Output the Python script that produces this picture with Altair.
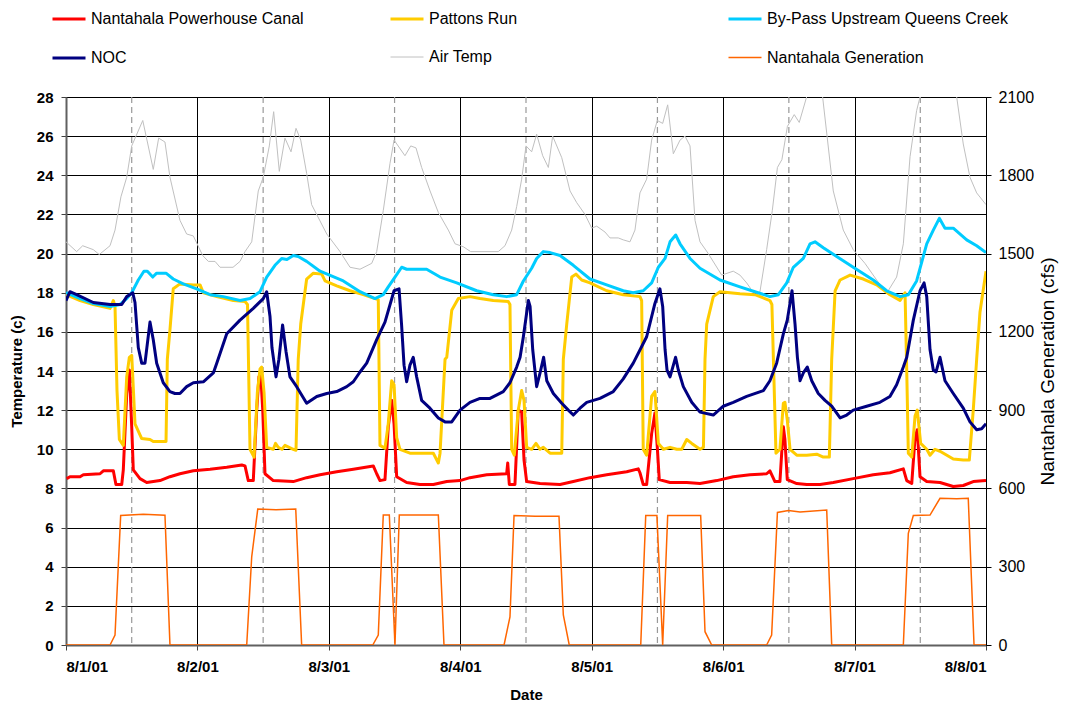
import json

import altair as alt
import pandas as pd

# ---- categories / labels -------------------------------------------------
DATE_LABELS = ["8/1/01", "8/2/01", "8/3/01", "8/4/01", "8/5/01", "8/6/01", "8/7/01", "8/8/01"]
NOON_DAYS = [0.5, 1.5, 2.5, 3.5, 4.5, 5.5, 6.5]
TEMP_TICKS = [0, 2, 4, 6, 8, 10, 12, 14, 16, 18, 20, 22, 24, 26, 28]
FLOW_TICKS = [0, 300, 600, 900, 1200, 1500, 1800, 2100]

SERIES = [
    "Nantahala Powerhouse Canal",
    "Pattons Run",
    "By-Pass Upstream Queens Creek",
    "NOC",
    "Air Temp",
    "Nantahala Generation",
]
COLORS = ["#ff0000", "#ffcc00", "#00ccff", "#000080", "#c0c0c0", "#ff6600"]
WIDTHS = [3, 3, 3, 3, 1, 1.5]

# ---- series (x in days since 8/1/01 00:00) ---------------------------------
CANAL_DAY = [0.005, 0.030, 0.107, 0.132, 0.259, 0.284, 0.360, 0.380, 0.424, 0.436, 0.462, 0.482, 0.500, 0.512,
             0.563, 0.614, 0.715, 0.791, 0.867, 0.969, 1.096, 1.223, 1.337, 1.362, 1.387, 1.425, 1.451, 1.468,
             1.481, 1.497, 1.514, 1.577, 1.729, 1.831, 1.933, 2.060, 2.186, 2.338, 2.364, 2.389, 2.427, 2.452,
             2.478, 2.496, 2.516, 2.592, 2.693, 2.795, 2.897, 2.998, 3.074, 3.201, 3.353, 3.361, 3.373, 3.416,
             3.441, 3.467, 3.485, 3.505, 3.607, 3.759, 3.860, 3.987, 4.114, 4.266, 4.354, 4.367, 4.392, 4.418,
             4.456, 4.481, 4.499, 4.514, 4.596, 4.723, 4.824, 4.951, 5.077, 5.204, 5.331, 5.356, 5.394, 5.432,
             5.458, 5.470, 5.488, 5.560, 5.636, 5.737, 5.838, 5.990, 6.142, 6.269, 6.371, 6.397, 6.435, 6.460,
             6.477, 6.498, 6.549, 6.650, 6.751, 6.827, 6.903, 7.000]
CANAL_TEMP = [8.5, 8.6, 8.6, 8.7, 8.75, 8.9, 8.9, 8.2, 8.2, 8.95, 12.85, 14.05, 11.15, 8.95,
              8.5, 8.3, 8.4, 8.6, 8.75, 8.9, 8.98, 9.08, 9.2, 9.15, 8.4, 8.4, 12.0, 13.7,
              13.9, 12.0, 8.75, 8.4, 8.35, 8.55, 8.7, 8.85, 8.98, 9.15, 8.75, 8.4, 8.45, 11.15,
              12.5, 11.3, 8.6, 8.3, 8.2, 8.2, 8.35, 8.4, 8.55, 8.7, 8.75, 9.3, 8.2, 8.2,
              12.0, 11.9, 9.45, 8.35, 8.25, 8.2, 8.35, 8.55, 8.7, 8.85, 9.0, 8.8, 8.2, 8.2,
              10.8, 11.85, 10.1, 8.45, 8.3, 8.3, 8.25, 8.4, 8.6, 8.7, 8.75, 8.9, 8.35, 8.35,
              11.15, 10.5, 8.45, 8.25, 8.2, 8.2, 8.3, 8.5, 8.7, 8.8, 9.0, 8.4, 8.25, 10.6,
              11.0, 8.6, 8.35, 8.3, 8.1, 8.15, 8.35, 8.4]

PATTONS_DAY = [0.000, 0.107, 0.208, 0.335, 0.360, 0.373, 0.388, 0.406, 0.436, 0.462, 0.482, 0.500, 0.508, 0.525,
               0.576, 0.639, 0.664, 0.761, 0.771, 0.791, 0.816, 0.867, 0.969, 1.020, 1.045, 1.147, 1.273, 1.362,
               1.381, 1.400, 1.431, 1.456, 1.476, 1.489, 1.507, 1.527, 1.577, 1.594, 1.615, 1.643, 1.666, 1.729,
               1.750, 1.767, 1.786, 1.831, 1.882, 1.946, 1.971, 2.060, 2.161, 2.262, 2.351, 2.376, 2.389, 2.427,
               2.452, 2.478, 2.496, 2.516, 2.541, 2.617, 2.795, 2.833, 2.846, 2.884, 2.897, 2.935, 2.985, 3.074,
               3.150, 3.251, 3.365, 3.378, 3.391, 3.411, 3.441, 3.467, 3.485, 3.505, 3.543, 3.576, 3.607, 3.632,
               3.683, 3.772, 3.784, 3.810, 3.848, 3.880, 3.924, 3.987, 4.114, 4.240, 4.367, 4.380, 4.392, 4.418,
               4.456, 4.481, 4.507, 4.545, 4.596, 4.647, 4.685, 4.723, 4.761, 4.824, 4.850, 4.862, 4.875, 4.925,
               4.976, 5.128, 5.242, 5.318, 5.356, 5.371, 5.402, 5.432, 5.458, 5.470, 5.488, 5.509, 5.560, 5.636,
               5.712, 5.762, 5.808, 5.826, 5.852, 5.890, 5.966, 6.066, 6.168, 6.269, 6.346, 6.384, 6.397, 6.409,
               6.435, 6.460, 6.477, 6.503, 6.549, 6.574, 6.612, 6.650, 6.751, 6.827, 6.873, 6.903, 6.929, 6.954,
               7.000]
PATTONS_TEMP = [17.9, 17.6, 17.4, 17.2, 17.6, 17.3, 13.0, 10.5, 10.2, 13.7, 14.7, 14.8, 13.7, 11.3,
                10.55, 10.5, 10.4, 10.4, 14.6, 16.1, 18.2, 18.45, 18.4, 18.4, 18.0, 17.8, 17.6, 17.55,
                17.4, 10.0, 9.6, 12.9, 14.1, 14.2, 12.9, 10.1, 10.0, 10.3, 10.1, 10.0, 10.2, 10.0,
                9.95, 14.6, 16.4, 18.7, 19.0, 18.95, 18.6, 18.35, 18.1, 17.9, 17.7, 17.65, 10.2, 10.05,
                11.3, 13.5, 13.3, 10.6, 10.0, 9.8, 9.8, 9.3, 9.8, 14.6, 14.7, 17.1, 17.7, 17.8,
                17.7, 17.6, 17.55, 17.4, 10.0, 9.7, 12.0, 13.0, 12.5, 10.1, 10.0, 10.3, 10.0, 10.1,
                9.8, 9.8, 14.6, 16.4, 18.8, 18.95, 18.65, 18.5, 18.1, 17.9, 17.8, 17.6, 10.0, 9.7,
                12.7, 12.95, 10.3, 10.0, 10.1, 10.0, 10.0, 10.5, 10.3, 10.0, 10.1, 14.6, 16.4, 17.8,
                18.05, 17.95, 17.9, 17.7, 17.6, 17.4, 9.8, 10.0, 12.35, 12.4, 11.5, 10.0, 9.7, 9.7,
                9.75, 9.6, 9.6, 14.6, 18.1, 18.65, 18.9, 18.7, 18.4, 17.9, 17.6, 18.0, 14.0, 9.8,
                9.6, 11.7, 12.0, 10.3, 10.0, 9.7, 10.0, 9.9, 9.5, 9.45, 9.45, 12.0, 14.6, 17.0,
                19.1]

BYPASS_DAY = [0.000, 0.107, 0.208, 0.335, 0.411, 0.462, 0.500, 0.550, 0.593, 0.619, 0.660, 0.690, 0.761, 0.816,
              0.892, 0.994, 1.096, 1.197, 1.324, 1.400, 1.476, 1.527, 1.590, 1.641, 1.681, 1.729, 1.767, 1.831,
              1.933, 2.110, 2.237, 2.351, 2.414, 2.452, 2.503, 2.554, 2.592, 2.744, 2.846, 2.973, 3.125, 3.251,
              3.353, 3.429, 3.480, 3.543, 3.581, 3.632, 3.683, 3.759, 3.860, 3.987, 4.114, 4.240, 4.316, 4.392,
              4.456, 4.507, 4.558, 4.596, 4.639, 4.672, 4.748, 4.824, 4.976, 5.128, 5.242, 5.356, 5.420, 5.484,
              5.534, 5.610, 5.661, 5.699, 5.762, 5.864, 5.990, 6.142, 6.244, 6.346, 6.409, 6.472, 6.549, 6.599,
              6.645, 6.688, 6.751, 6.853, 6.929, 7.000]
BYPASS_TEMP = [18.0, 17.7, 17.45, 17.3, 17.4, 17.7, 18.0, 18.65, 19.1, 19.1, 18.8, 19.0, 19.0, 18.7,
               18.45, 18.2, 17.9, 17.8, 17.6, 17.7, 18.05, 18.8, 19.4, 19.75, 19.7, 19.9, 19.85, 19.6,
               19.1, 18.6, 18.05, 17.7, 17.9, 18.3, 18.8, 19.3, 19.2, 19.2, 18.8, 18.5, 18.1, 17.9,
               17.8, 17.9, 18.6, 19.25, 19.75, 20.1, 20.05, 19.9, 19.4, 18.7, 18.4, 18.1, 18.0, 18.1,
               18.5, 19.3, 19.75, 20.6, 20.95, 20.5, 19.75, 19.25, 18.65, 18.3, 18.05, 17.8, 17.9, 18.5,
               19.3, 19.75, 20.5, 20.6, 20.3, 19.85, 19.3, 18.65, 18.1, 17.8, 17.9, 18.6, 20.5, 21.2,
               21.8, 21.3, 21.3, 20.7, 20.4, 20.05]

NOC_DAY = [0.000, 0.030, 0.081, 0.208, 0.335, 0.424, 0.462, 0.508, 0.525, 0.550, 0.576, 0.601, 0.639, 0.664,
           0.690, 0.740, 0.791, 0.829, 0.867, 0.918, 0.969, 1.045, 1.121, 1.147, 1.223, 1.324, 1.425, 1.501,
           1.527, 1.552, 1.567, 1.598, 1.620, 1.648, 1.674, 1.704, 1.755, 1.831, 1.908, 1.984, 2.060, 2.136,
           2.186, 2.237, 2.288, 2.364, 2.427, 2.496, 2.534, 2.553, 2.572, 2.592, 2.617, 2.642, 2.668, 2.706,
           2.769, 2.833, 2.884, 2.935, 2.998, 3.074, 3.150, 3.226, 3.327, 3.378, 3.429, 3.455, 3.480, 3.518,
           3.531, 3.551, 3.581, 3.607, 3.634, 3.658, 3.708, 3.772, 3.822, 3.860, 3.911, 3.962, 4.063, 4.164,
           4.240, 4.316, 4.418, 4.481, 4.519, 4.540, 4.558, 4.573, 4.596, 4.638, 4.659, 4.697, 4.761, 4.824,
           4.925, 5.001, 5.077, 5.179, 5.306, 5.356, 5.407, 5.458, 5.488, 5.524, 5.547, 5.565, 5.585, 5.610,
           5.640, 5.674, 5.724, 5.775, 5.826, 5.890, 5.940, 5.990, 6.092, 6.193, 6.269, 6.320, 6.371, 6.397,
           6.447, 6.498, 6.529, 6.549, 6.574, 6.599, 6.620, 6.650, 6.688, 6.751, 6.827, 6.878, 6.929, 6.967,
           7.000]
NOC_TEMP = [17.6, 18.05, 17.9, 17.5, 17.4, 17.4, 17.8, 18.0, 17.5, 15.2, 14.4, 14.4, 16.5, 15.6,
            14.4, 13.4, 12.95, 12.85, 12.85, 13.2, 13.4, 13.45, 13.9, 14.4, 15.9, 16.6, 17.2, 17.7,
            18.05, 16.8, 15.2, 13.7, 14.6, 16.35, 15.0, 13.7, 13.2, 12.35, 12.7, 12.85, 12.95, 13.2,
            13.45, 13.95, 14.4, 15.6, 16.5, 18.1, 18.2, 16.4, 14.3, 13.45, 14.3, 14.7, 13.7, 12.5,
            12.1, 11.6, 11.4, 11.4, 12.0, 12.4, 12.6, 12.6, 12.95, 13.4, 14.2, 14.7, 15.75, 17.6,
            17.3, 15.1, 13.2, 13.9, 14.7, 13.5, 12.85, 12.35, 12.0, 11.75, 12.1, 12.4, 12.6, 12.95,
            13.6, 14.4, 15.75, 17.45, 18.2, 17.3, 15.1, 14.05, 13.7, 14.7, 14.05, 13.2, 12.4, 11.9,
            11.75, 12.2, 12.4, 12.7, 13.0, 13.5, 14.4, 15.9, 16.6, 18.1, 16.4, 14.7, 13.5, 13.9,
            14.2, 13.5, 12.85, 12.5, 12.2, 11.6, 11.75, 12.0, 12.2, 12.4, 12.7, 13.3, 14.2, 14.7,
            16.6, 18.1, 18.5, 17.8, 15.1, 14.05, 13.95, 14.7, 13.5, 12.85, 12.1, 11.4, 11.0, 11.05,
            11.3]

AIR_DAY = [0.000, 0.081, 0.127, 0.208, 0.253, 0.335, 0.373, 0.418, 0.462, 0.500, 0.584, 0.664, 0.705, 0.753,
           0.791, 0.867, 0.918, 0.969, 1.040, 1.083, 1.134, 1.172, 1.271, 1.324, 1.362, 1.413, 1.463, 1.501,
           1.547, 1.580, 1.623, 1.666, 1.712, 1.750, 1.786, 1.831, 1.869, 1.984, 2.085, 2.161, 2.237, 2.326,
           2.364, 2.414, 2.465, 2.496, 2.579, 2.623, 2.663, 2.706, 2.770, 2.833, 2.909, 2.960, 3.023, 3.079,
           3.289, 3.340, 3.391, 3.429, 3.467, 3.500, 3.543, 3.581, 3.627, 3.670, 3.703, 3.772, 3.835, 3.886,
           3.949, 4.000, 4.038, 4.101, 4.139, 4.202, 4.240, 4.291, 4.329, 4.367, 4.418, 4.456, 4.499, 4.540,
           4.578, 4.621, 4.672, 4.710, 4.748, 4.786, 4.824, 4.887, 4.989, 5.077, 5.128, 5.179, 5.242, 5.280,
           5.331, 5.374, 5.413, 5.447, 5.489, 5.541, 5.579, 5.635, 5.675, 5.721, 5.757, 5.838, 5.914, 5.990,
           6.079, 6.168, 6.244, 6.320, 6.371, 6.422, 6.472, 6.498, 6.574, 6.688, 6.777, 6.827, 6.878, 6.929,
           7.000]
AIR_TEMP = [20.6, 20.1, 20.4, 20.2, 19.95, 20.4, 21.2, 22.9, 23.9, 25.5, 26.8, 24.3, 25.9, 25.7,
            23.9, 21.7, 21.0, 20.9, 19.9, 19.6, 19.6, 19.3, 19.3, 19.6, 20.1, 20.6, 23.2, 23.9,
            25.5, 27.25, 24.2, 25.9, 25.2, 26.4, 25.8, 24.1, 22.5, 21.0, 20.1, 19.3, 19.2, 19.5,
            20.1, 22.2, 24.6, 25.8, 25.0, 25.5, 25.4, 24.4, 23.2, 22.1, 21.2, 20.5, 20.35, 20.1,
            20.1, 20.4, 21.2, 22.4, 23.8, 25.5, 25.2, 26.1, 25.0, 24.4, 26.0, 24.9, 23.2, 22.6,
            22.0, 21.3, 21.4, 21.1, 20.8, 20.8, 20.7, 20.6, 21.2, 23.1, 23.8, 25.8, 26.8, 26.65,
            27.6, 25.1, 25.8, 26.0, 25.5, 21.7, 20.6, 20.0, 18.9, 19.1, 18.9, 18.5, 17.9, 18.05,
            20.2, 22.2, 24.4, 24.8, 26.5, 27.1, 26.7, 28.0, 29.0, 29.2, 28.0, 23.2, 21.2, 20.2,
            19.5, 18.65, 17.97, 18.8, 20.5, 24.95, 27.3, 28.0, 29.5, 29.8, 28.0, 25.6, 23.9, 23.1,
            22.5]

GEN_DAY = [0.000, 0.335, 0.373, 0.416, 0.588, 0.753, 0.791, 1.375, 1.413, 1.459, 1.598, 1.748, 1.793, 2.334,
           2.376, 2.414, 2.460, 2.503, 2.536, 2.833, 2.876, 3.333, 3.378, 3.409, 3.569, 3.751, 3.784, 3.829,
           4.373, 4.411, 4.496, 4.540, 4.578, 4.829, 4.862, 4.913, 5.331, 5.369, 5.413, 5.497, 5.585, 5.788,
           5.826, 6.371, 6.409, 6.447, 6.574, 6.650, 6.777, 6.865, 6.909, 7.000]
GEN_CFS = [0, 0, 38, 496, 501, 497, 0, 0, 338, 521, 518, 521, 0, 0,
           38, 498, 498, 0, 498, 498, 0, 0, 108, 496, 493, 493, 115, 0,
           0, 496, 496, 0, 496, 496, 51, 0, 0, 38, 508, 515, 510, 517,
           0, 0, 428, 496, 498, 562, 560, 562, 0, 0]

FONT = "Liberation Sans"


def frame(name, days, values):
    return pd.DataFrame({"day": days, "value": values, "series": name})


temps = pd.concat(
    [
        frame(SERIES[4], AIR_DAY, AIR_TEMP),
        frame(SERIES[0], CANAL_DAY, CANAL_TEMP),
        frame(SERIES[1], PATTONS_DAY, PATTONS_TEMP),
        frame(SERIES[2], BYPASS_DAY, BYPASS_TEMP),
        frame(SERIES[3], NOC_DAY, NOC_TEMP),
    ],
    ignore_index=True,
)
gen = frame(SERIES[5], GEN_DAY, GEN_CFS)
noon = pd.DataFrame({"day": NOON_DAYS})

x_scale = alt.Scale(domain=[0, 7], nice=False, zero=False)
x_axis = alt.Axis(
    values=list(range(len(DATE_LABELS))),
    labelExpr=json.dumps(DATE_LABELS) + "[datum.value]",
    title="Date",
    grid=True,
    gridColor="#000000",
    gridWidth=1,
    domainColor="#606060",
    domainWidth=2,
    tickColor="#404040",
    tickSize=5,
    labelFont=FONT,
    labelFontSize=15,
    labelFontWeight="bold",
    labelColor="#000000",
    labelPadding=9,
    titleFont=FONT,
    titleFontSize=15,
    titleFontWeight="bold",
    titleColor="#000000",
    titlePadding=13,
)

legend = alt.Legend(
    orient="none",
    legendX=-15,
    legendY=-96,
    direction="horizontal",
    columns=3,
    gridAlign="all",
    columnPadding=52,
    rowPadding=13,
    symbolType="stroke",
    symbolSize=1089,
    labelFont=FONT,
    labelFontSize=16,
    labelColor="#000000",
    labelLimit=400,
    labelOffset=4,
)
color = alt.Color("series:N", scale=alt.Scale(domain=SERIES, range=COLORS), legend=legend, title=None)
stroke_w = alt.StrokeWidth(
    "series:N",
    scale=alt.Scale(type="ordinal", domain=SERIES, range=WIDTHS),
    legend=legend,
    title=None,
)

noon_rules = alt.Chart(noon).mark_rule(color="#999999", strokeDash=[6, 4], strokeWidth=1.2).encode(
    x=alt.X("day:Q", scale=x_scale, axis=x_axis)
)

temp_lines = alt.Chart(temps).mark_line(clip=True, strokeJoin="round").encode(
    x=alt.X("day:Q", scale=x_scale, axis=x_axis),
    y=alt.Y(
        "value:Q",
        scale=alt.Scale(domain=[0, 28], nice=False, zero=True),
        axis=alt.Axis(
            orient="left",
            values=TEMP_TICKS,
            title="Temperature (c)",
            grid=True,
            gridColor="#000000",
            gridWidth=1,
            domainColor="#606060",
            domainWidth=2,
            tickColor="#404040",
            tickSize=5,
            labelFont=FONT,
            labelFontSize=15,
            labelFontWeight="bold",
            labelColor="#000000",
            labelPadding=8,
            titleFont=FONT,
            titleFontSize=15,
            titleFontWeight="bold",
            titleColor="#000000",
            titlePadding=12,
        ),
    ),
    color=color,
    strokeWidth=stroke_w,
    detail="series:N",
)

gen_line = alt.Chart(gen).mark_line(clip=True).encode(
    x=alt.X("day:Q", scale=x_scale, axis=x_axis),
    y=alt.Y(
        "value:Q",
        scale=alt.Scale(domain=[0, 2100], nice=False, zero=True),
        axis=alt.Axis(
            orient="right",
            values=FLOW_TICKS,
            format="d",
            title="Nantahala Generation (cfs)",
            grid=False,
            domainColor="#000000",
            domainWidth=1,
            tickColor="#000000",
            tickSize=5,
            labelFont=FONT,
            labelFontSize=16,
            labelColor="#000000",
            labelPadding=7,
            titleFont=FONT,
            titleFontSize=19,
            titleFontWeight="normal",
            titleColor="#000000",
            titleAngle=270,
            titlePadding=24,
        ),
    ),
    color=color,
    strokeWidth=stroke_w,
)

chart = (
    alt.layer(noon_rules, temp_lines, gen_line)
    .resolve_scale(y="independent")
    .properties(
        width=920,
        height=548,
        autosize=alt.AutoSizeParams(type="none"),
        padding={"left": 66, "top": 97, "right": 80, "bottom": 64},
        background="#ffffff",
    )
    .configure_view(stroke="#808080", strokeWidth=1)
)

chart.save("out.html", embed_options={"renderer": "svg", "actions": False})
